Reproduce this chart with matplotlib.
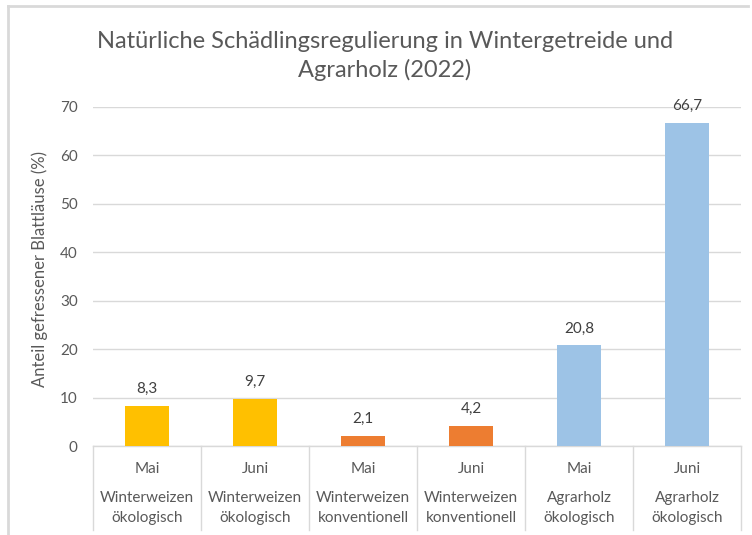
import matplotlib
matplotlib.use("Agg")
import matplotlib.pyplot as plt
from matplotlib.lines import Line2D
import matplotlib.transforms as mtransforms

plt.rcParams['font.family'] = ['Lato', 'DejaVu Sans']

months = ["Mai", "Juni", "Mai", "Juni", "Mai", "Juni"]
groups = ["Winterweizen\nökologisch", "Winterweizen\nökologisch",
          "Winterweizen\nkonventionell", "Winterweizen\nkonventionell",
          "Agrarholz\nökologisch", "Agrarholz\nökologisch"]
values = [8.3, 9.7, 2.1, 4.2, 20.8, 66.7]
labels = ["8,3", "9,7", "2,1", "4,2", "20,8", "66,7"]
colors = ["#FFC000", "#FFC000", "#ED7D31", "#ED7D31", "#9DC3E6", "#9DC3E6"]
yticks = [0, 10, 20, 30, 40, 50, 60, 70]

W, H = 752, 535
fig = plt.figure(figsize=(W / 100, H / 100), dpi=100)
fig.patch.set_facecolor("white")

left, right, bottom, top = 93, 741, 446, 107
ax = fig.add_axes([left / W, 1 - bottom / H, (right - left) / W, (bottom - top) / H])

x = list(range(len(values)))
ax.bar(x, values, width=0.4, color=colors, zorder=3)
ax.set_xlim(-0.5, len(values) - 0.5)
ax.set_ylim(0, 70)
ax.set_yticks(yticks)
ax.set_yticklabels([str(t) for t in yticks])
ax.yaxis.grid(True, color="#D9D9D9", linewidth=1.0, zorder=0)
ax.set_axisbelow(True)
for s in ["left", "right", "top"]:
    ax.spines[s].set_visible(False)
ax.spines["bottom"].set_color("#D9D9D9")
ax.spines["bottom"].set_linewidth(1.0)
ax.tick_params(axis="y", length=0, pad=11, labelsize=11, labelcolor="#595959")
ax.set_xticks([])

for xi, v, lab in zip(x, values, labels):
    ax.annotate(lab, (xi, v), xytext=(0, 7), textcoords="offset points",
                ha="center", va="bottom", fontsize=11, color="#404040",
                annotation_clip=False)

ax.text(40 / W, 1 - 269 / H, "Anteil gefressener Blattläuse (%)", transform=fig.transFigure,
        rotation=90, ha="center", va="center", fontsize=12, color="#595959")

trans = mtransforms.blended_transform_factory(ax.transData, fig.transFigure)
for xi, m, g in zip(x, months, groups):
    ax.text(xi, 1 - 469 / H, m, transform=trans, ha="center", va="center",
            fontsize=11, color="#595959")
    ax.text(xi, 1 - 508 / H, g, transform=trans, ha="center", va="center",
            fontsize=11, color="#595959", linespacing=1.55)

for i in range(len(values) + 1):
    xs = i - 0.5
    ax.add_line(Line2D([xs, xs], [1 - bottom / H, 1 - 530 / H], transform=trans,
                       color="#D9D9D9", linewidth=1.0, clip_on=False))

fig.text(385 / W, 1 - 56 / H,
         "Natürliche Schädlingsregulierung in Wintergetreide und\nAgrarholz (2022)",
         ha="center", va="center", fontsize=17, color="#595959", linespacing=1.38)

fig.add_artist(Line2D([8 / W, 748 / W], [1 - 6 / H, 1 - 6 / H], color="#D9D9D9", linewidth=2))
fig.add_artist(Line2D([8 / W, 8 / W], [1 - 6 / H, 0], color="#D9D9D9", linewidth=2))

fig.savefig("out.png", dpi=100)
